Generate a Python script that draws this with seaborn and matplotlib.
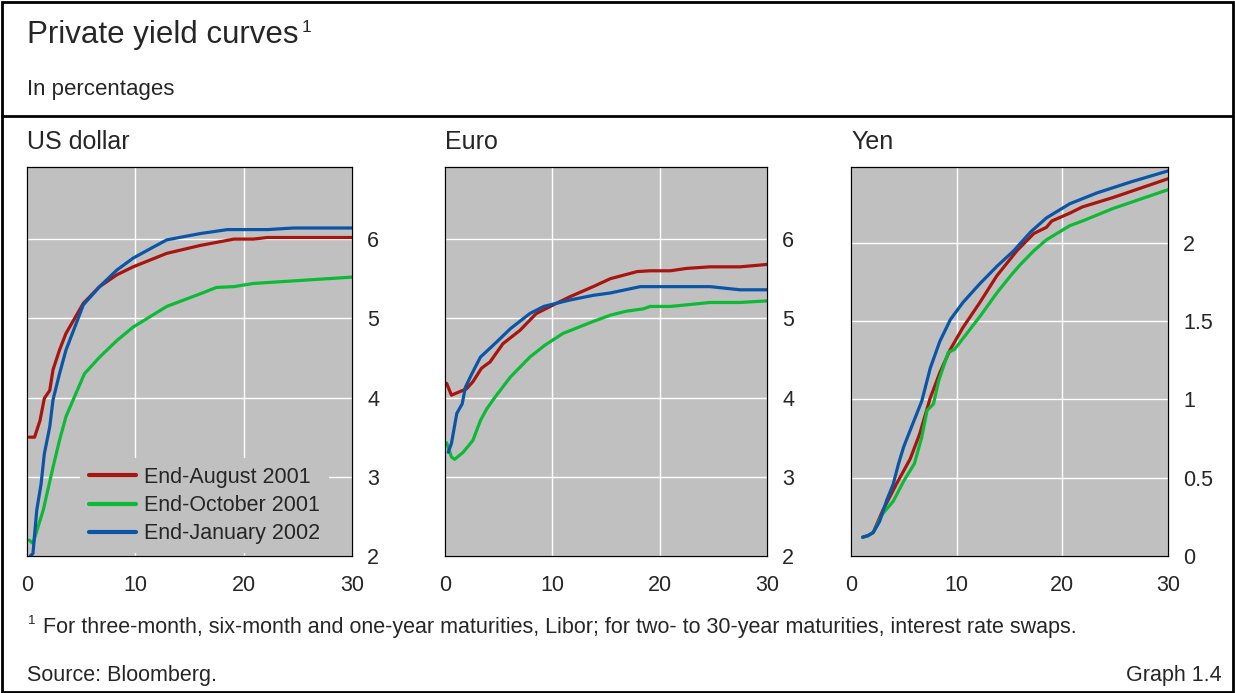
import numpy as np
import pandas as pd
import seaborn as sns
import matplotlib.pyplot as plt
from matplotlib.patches import Rectangle
from matplotlib.lines import Line2D

series = ["End-August 2001", "End-October 2001", "End-January 2002"]
colors = ["#a8150f", "#0cba36", "#0b55a8"]

# US dollar
usd_aug_x = [0.2, 0.7, 1.2, 1.6, 2.1, 2.4, 3.0, 3.6, 5.2, 6.7, 8.3, 9.8, 12.9, 16, 19.1, 20.9, 22.2, 30]
usd_aug_y = [3.5, 3.5, 3.71, 3.99, 4.09, 4.35, 4.6, 4.81, 5.19, 5.40, 5.55, 5.65, 5.82, 5.92, 6.0, 6.0, 6.02, 6.02]
usd_oct_x = [0.2, 0.55, 1.5, 2.4, 3.0, 3.6, 5.3, 6.7, 8.3, 9.8, 12.9, 16, 17.5, 19.1, 20.9, 30]
usd_oct_y = [2.2, 2.16, 2.58, 3.12, 3.46, 3.76, 4.3, 4.51, 4.72, 4.89, 5.15, 5.31, 5.39, 5.40, 5.44, 5.52]
usd_jan_x = [0.3, 0.55, 0.9, 1.3, 1.6, 2.1, 2.4, 3.0, 3.6, 5.2, 6.7, 8.3, 9.8, 11.4, 12.9, 16, 18.5, 22.2, 24.6, 30]
usd_jan_y = [2.0, 2.03, 2.58, 2.91, 3.29, 3.63, 3.97, 4.30, 4.60, 5.17, 5.40, 5.61, 5.76, 5.88, 5.99, 6.07, 6.12, 6.12, 6.14, 6.14]

# Euro
eur_aug_x = [0.15, 0.6, 2.0, 2.6, 3.4, 4.2, 5.4, 7.0, 8.5, 10.1, 11.6, 13.8, 15.4, 17.9, 19.1, 21, 22.5, 24.7, 27.5, 30]
eur_aug_y = [4.18, 4.03, 4.11, 4.2, 4.37, 4.45, 4.68, 4.85, 5.06, 5.17, 5.27, 5.40, 5.50, 5.59, 5.60, 5.60, 5.63, 5.65, 5.65, 5.68]
eur_oct_x = [0.15, 0.6, 0.9, 1.7, 2.6, 3.3, 3.9, 4.8, 6.1, 7.9, 9.3, 11.0, 13.8, 15.4, 16.9, 18.5, 19.1, 21, 22.5, 24.7, 27.5, 30]
eur_oct_y = [3.43, 3.25, 3.22, 3.31, 3.46, 3.71, 3.86, 4.03, 4.26, 4.51, 4.66, 4.81, 4.96, 5.04, 5.09, 5.12, 5.15, 5.15, 5.17, 5.20, 5.20, 5.22]
eur_jan_x = [0.3, 0.6, 1.1, 1.6, 1.9, 2.5, 3.3, 4.8, 6.1, 7.9, 9.2, 11.6, 13.8, 15.4, 18.2, 24.7, 27.5, 30]
eur_jan_y = [3.31, 3.42, 3.80, 3.92, 4.13, 4.30, 4.51, 4.70, 4.87, 5.06, 5.15, 5.23, 5.29, 5.32, 5.40, 5.40, 5.36, 5.36]

# Yen
jpy_aug_x = [1.1, 1.6, 2.1, 3.0, 4.3, 5.6, 6.5, 7.5, 8.4, 9.4, 10.6, 12.2, 13.8, 15.7, 17.3, 18.5, 19.0, 20.7, 21.9, 24.8, 30]
jpy_aug_y = [0.12, 0.13, 0.15, 0.29, 0.46, 0.62, 0.78, 1.01, 1.17, 1.32, 1.46, 1.62, 1.79, 1.95, 2.06, 2.10, 2.14, 2.19, 2.23, 2.29, 2.41]
jpy_oct_x = [1.1, 1.6, 2.1, 3.0, 4.0, 5.0, 6.0, 6.7, 7.2, 7.8, 8.3, 9.2, 9.8, 10.6, 12.2, 13.8, 15.1, 16.0, 17.3, 18.5, 20.7, 21.9, 24.8, 30]
jpy_oct_y = [0.12, 0.13, 0.15, 0.27, 0.35, 0.48, 0.59, 0.76, 0.93, 0.97, 1.12, 1.30, 1.32, 1.39, 1.53, 1.68, 1.79, 1.86, 1.95, 2.02, 2.11, 2.14, 2.22, 2.34]
jpy_jan_x = [1.1, 1.6, 2.1, 2.7, 3.4, 4.0, 4.5, 5.0, 5.7, 6.7, 7.5, 8.4, 9.4, 10.6, 12.2, 13.8, 15.4, 17.0, 18.5, 20.7, 23.3, 26.5, 30]
jpy_jan_y = [0.12, 0.13, 0.15, 0.22, 0.36, 0.46, 0.59, 0.70, 0.82, 0.99, 1.20, 1.37, 1.51, 1.62, 1.74, 1.85, 1.95, 2.07, 2.16, 2.25, 2.32, 2.39, 2.46]

panels = [
    ("US dollar", [(usd_aug_x, usd_aug_y), (usd_oct_x, usd_oct_y), (usd_jan_x, usd_jan_y)], [2, 3, 4, 5, 6], ["2", "3", "4", "5", "6"], (2, 6.91)),
    ("Euro", [(eur_aug_x, eur_aug_y), (eur_oct_x, eur_oct_y), (eur_jan_x, eur_jan_y)], [2, 3, 4, 5, 6], ["2", "3", "4", "5", "6"], (2, 6.91)),
    ("Yen", [(jpy_aug_x, jpy_aug_y), (jpy_oct_x, jpy_oct_y), (jpy_jan_x, jpy_jan_y)], [0, 0.5, 1, 1.5, 2], ["0", "0.5", "1", "1.5", "2"], (0, 2.485)),
]

sns.set_style("darkgrid", {"axes.facecolor": "#c0c0c0", "grid.color": "white", "axes.edgecolor": "black"})
plt.rcParams["font.family"] = ["Liberation Sans", "DejaVu Sans"]

W, H = 1235, 693
fig = plt.figure(figsize=(W / 100, H / 100), dpi=100)

lefts = [27, 445, 851]
widths = [325, 322, 317]
top_px, bot_px = 167, 556
fs = 15.5

for i, (name, data, yt, ytl, ylim) in enumerate(panels):
    ax = fig.add_axes([lefts[i] / W, 1 - bot_px / H, widths[i] / W, (bot_px - top_px) / H])
    frames = []
    for s, (xs, ys) in zip(series, data):
        frames.append(pd.DataFrame({"maturity": xs, "yield": ys, "series": s}))
    df = pd.concat(frames, ignore_index=True)
    sns.lineplot(data=df, x="maturity", y="yield", hue="series", hue_order=series,
                 palette=colors, estimator=None, linewidth=2.3, legend=False, ax=ax)
    ax.set_xlim(0, 30)
    ax.set_ylim(*ylim)
    ax.set_xticks([0, 10, 20, 30])
    ax.set_xticklabels(["0", "10", "20", "30"])
    ax.set_yticks(yt)
    ax.set_yticklabels(ytl)
    ax.yaxis.tick_right()
    ax.tick_params(axis="y", length=0, pad=11, labelsize=fs)
    ax.tick_params(axis="x", length=0, pad=14, labelsize=fs)
    ax.set_xlabel("")
    ax.set_ylabel("")
    ax.grid(True, color="white", linewidth=1)
    for sp in ax.spines.values():
        sp.set_visible(True)
        sp.set_color("black")
        sp.set_linewidth(0.9)
    fig.text(lefts[i] / W, 1 - 142 / H, name, fontsize=18, va="center", ha="left")
    if i == 0:
        leg = ax.legend(ax.lines[:3], series, loc="lower left", bbox_to_anchor=(0.154, 0.0),
                        fontsize=fs, frameon=True, facecolor="#c0c0c0", edgecolor="none",
                        framealpha=1, handlelength=2.2, handletextpad=0.37, labelspacing=0.33,
                        borderpad=0.4, borderaxespad=0.15)
        for h in leg.get_lines():
            h.set_linewidth(3)

# outer frame and divider
fig.add_artist(Rectangle((2 / W, 1 / H), 1231 / W, 690 / H, transform=fig.transFigure,
                         fill=False, edgecolor="black", linewidth=2))
fig.add_artist(Line2D([2 / W, 1233 / W], [1 - 116 / H, 1 - 116 / H], transform=fig.transFigure,
                      color="black", linewidth=2))

fig.text(27 / W, 1 - 35 / H, "Private yield curves", fontsize=22.5, va="center", ha="left")
fig.text(302 / W, 1 - 27 / H, "1", fontsize=12.5, va="center", ha="left")
fig.text(27 / W, 1 - 89 / H, "In percentages", fontsize=16, va="center", ha="left")

fig.text(28 / W, 1 - 621 / H, "1", fontsize=9.5, va="center", ha="left")
fig.text(43 / W, 1 - 627 / H,
         "For three-month, six-month and one-year maturities, Libor; for two- to 30-year maturities, interest rate swaps.",
         fontsize=fs, va="center", ha="left")
fig.text(27 / W, 1 - 675 / H, "Source: Bloomberg.", fontsize=fs, va="center", ha="left")
fig.text(1222 / W, 1 - 675 / H, "Graph 1.4", fontsize=fs, va="center", ha="right")

fig.savefig("out.png", dpi=100)
